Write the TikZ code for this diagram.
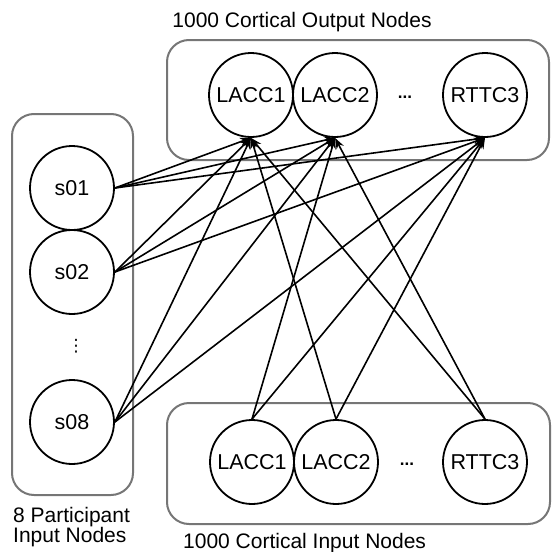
\documentclass[tikz,border=0pt]{standalone}
\usepackage{fontspec}
\setmainfont{Liberation Sans}
\newfontfamily\djv{DejaVu Sans}
\usetikzlibrary{arrows.meta}
\definecolor{boxgray}{RGB}{118,118,118}
\begin{document}
\begin{tikzpicture}[x=1pt,y=-1pt,
  nd/.style={circle,draw=black,line width=1.8pt,minimum size=84pt,inner sep=0pt,font=\fontsize{21.5}{24}\selectfont},
  grp/.style={draw=boxgray,line width=2pt,rounded corners=22pt},
  lbl/.style={inner sep=0pt,font=\fontsize{21}{20}\selectfont},
  dotsl/.style={inner sep=0pt,font=\fontsize{17}{17}\bfseries},
  conn/.style={line width=1.6pt,-{Stealth[length=11pt,width=8pt]}}
]
\useasboundingbox (0,0) rectangle (552,552);
% group boxes
\draw[grp] (167,40) rectangle (549,160);
\draw[grp] (167,403) rectangle (550,524);
\draw[grp] (12,114) rectangle (133,495);
% labels
\node[lbl,anchor=base] (tout) at (302,27) {1000 Cortical Output Nodes};
\node[lbl,anchor=base west] (tin) at (183,548) {1000 Cortical Input Nodes};
\node[lbl,anchor=north west,align=left] (tpart) at (13,507) {8 Participant\\Input Nodes};
% output nodes
\node[nd] (o1) at (251,95) {LACC1};
\node[nd] (o2) at (335,95) {LACC2};
\node[nd] (o3) at (485,95) {RTTC3};
\node[dotsl] (od) at (405,97) {...};
% input nodes
\node[nd] (i1) at (252,462) {LACC1};
\node[nd] (i2) at (336,462) {LACC2};
\node[nd] (i3) at (485,462) {RTTC3};
\node[dotsl] (id) at (407,464) {...};
% participant nodes
\node[nd] (s1) at (72,188) {s01};
\node[nd] (s2) at (72,272) {s02};
\node[inner sep=0pt,font=\djv\fontsize{17}{17}\selectfont] (sd) at (76,346) {⋮};
\node[nd] (s8) at (72,422) {s08};
% connectors from participants
\foreach \s in {s1,s2,s8}{
  \foreach \o in {o1,o2,o3}{
    \draw[conn] (\s.east) -- (\o.south);
  }
}
% connectors from cortical inputs
\draw[conn] (i1.north) -- (o2.south);
\draw[conn] (i1.north) -- (o3.south);
\draw[conn] (i2.north) -- (o1.south);
\draw[conn] (i2.north) -- (o3.south);
\draw[conn] (i3.north) -- (o1.south);
\draw[conn] (i3.north) -- (o2.south);
\end{tikzpicture}
\end{document}
